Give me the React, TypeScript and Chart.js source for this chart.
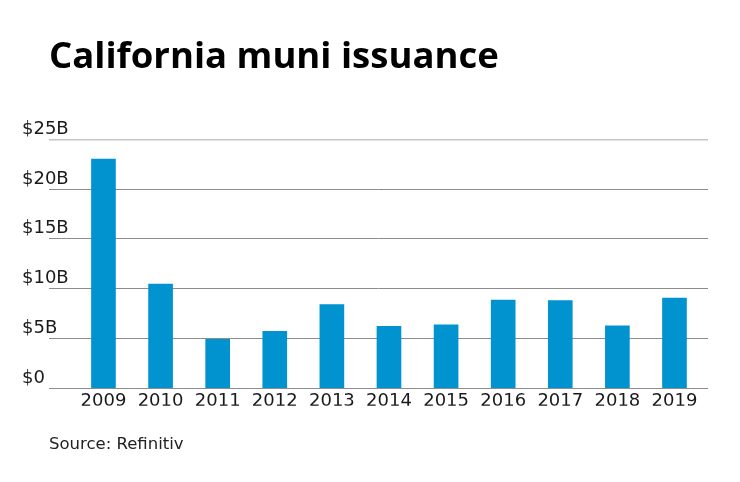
import { useEffect, useRef } from "react";
import { Chart, registerables } from "chart.js";

Chart.register(...registerables);

const years = ["2009", "2010", "2011", "2012", "2013", "2014", "2015", "2016", "2017", "2018", "2019"];
const issuance = [23.0, 10.45, 4.9, 5.7, 8.4, 6.2, 6.35, 8.85, 8.8, 6.25, 9.05];
const yTickValues = [0, 5, 10, 15, 20, 25];
const yTickLabels = ["$0", "$5B", "$10B", "$15B", "$20B", "$25B"];

const titleText = "California muni issuance";
const sourceText = "Source: Refinitiv";

export default function App() {
  const ref = useRef<HTMLCanvasElement | null>(null);

  useEffect(() => {
    if (!ref.current) return;
    const font = "'DejaVu Sans', sans-serif";
    const titleFont = "'Open Sans', 'DejaVu Sans', sans-serif";
    const chart = new Chart(ref.current, {
      type: "bar",
      data: {
        datasets: [
          {
            data: issuance.map((v, i) => ({ x: i, y: v })),
            backgroundColor: "#0093d0",
            borderWidth: 0,
            barThickness: 24,
          },
        ],
      },
      options: {
        animation: false,
        responsive: true,
        maintainAspectRatio: false,
        layout: { padding: { left: 14, right: 24, top: 0, bottom: 0 } },
        plugins: {
          legend: { display: false },
          tooltip: { enabled: false },
          title: {
            display: true,
            text: titleText,
            align: "start",
            fullSize: false,
            color: "#000",
            font: { family: titleFont, size: 36.5, weight: "bold" },
            padding: { top: 28, bottom: 59.5 },
          },
          subtitle: {
            display: true,
            text: sourceText,
            position: "bottom",
            align: "start",
            fullSize: false,
            color: "#222",
            font: { family: font, size: 16.5, weight: "normal" },
            padding: { top: 29.5, bottom: 19 },
          },
        },
        scales: {
          x: {
            type: "linear",
            offset: false,
            min: -0.954,
            max: 10.587,
            grid: { display: false, offset: false },
            border: { display: false },
            afterBuildTicks: (axis: any) => {
              axis.ticks = years.map((_, i) => ({ value: i }));
            },
            ticks: {
              padding: -6,
              color: "#1a1a1a",
              font: { family: font, size: 18 },
              maxRotation: 0,
              autoSkip: false,
              callback: (v: any) => years[Math.round(Number(v))] ?? "",
            },
          },
          y: {
            min: 0,
            max: 25,
            afterBuildTicks: (axis: any) => {
              axis.ticks = yTickValues.map((v) => ({ value: v }));
            },
            afterFit: (axis: any) => {
              axis.width = 27;
            },
            border: { display: false },
            grid: {
              drawTicks: false,
              color: (ctx: any) => (ctx.tick && ctx.tick.value === 25 ? "#c6c6c6" : "#8c8c8c"),
              lineWidth: (ctx: any) => (ctx.tick && ctx.tick.value === 25 ? 1.5 : 1),
            },
            ticks: {
              mirror: true,
              crossAlign: "near",
              labelOffset: -10,
              padding: -27,
              color: "#1a1a1a",
              font: { family: font, size: 18 },
              callback: (v: any) => {
                const idx = yTickValues.indexOf(Number(v));
                return idx >= 0 ? yTickLabels[idx] : "";
              },
            },
          },
        },
      } as any,
    });
    return () => chart.destroy();
  }, []);

  return (
    <div style={{ position: "relative", width: "724px", height: "466px" }}>
      <canvas ref={ref} />
    </div>
  );
}
